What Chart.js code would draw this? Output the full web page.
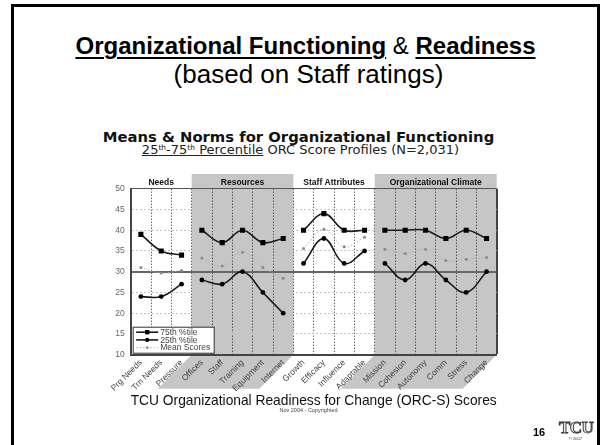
<!DOCTYPE html>
<html>
<head>
<meta charset="utf-8">
<script src="https://cdn.jsdelivr.net/npm/chart.js@4.4.1/dist/chart.umd.min.js"></script>
<style>
  html, body { margin: 0; padding: 0; background: #fff; }
  body { width: 605px; height: 445px; position: relative; overflow: hidden; font-family: 'Liberation Sans', Arial, sans-serif; }
  #frame { position: absolute; left: 11px; top: 4px; width: 589px; height: 500px; border: 3px solid #000; box-sizing: border-box; }
  .txt { position: absolute; left: 0; width: 605px; text-align: center; white-space: nowrap; color: #000; }
  #t1 { top: 34px; font-size: 24px; line-height: 24px; left: 3px; }
  #t1 .b { font-weight: bold; text-decoration: underline; text-decoration-thickness: 2px; text-underline-offset: 3px; }
  #t2 { top: 60.7px; font-size: 26px; line-height: 26px; left: 6px; }
  #c1 { top: 130.2px; font: bold 14.8px/14.8px 'DejaVu Sans', Verdana, sans-serif; left: -4px; color: #111; }
  #c2 { top: 142.5px; font: 13px/13px 'DejaVu Sans', Verdana, sans-serif; left: -2px; color: #222; }
  #c2 sup { font-size: 7.5px; vertical-align: 4px; line-height: 0; }
  #copy { top: 408px; font-size: 5.5px; line-height: 5.5px; left: 6px; color: #444; }
  #page { position: absolute; left: 533px; top: 427px; font-size: 11px; line-height: 11px; font-weight: bold; }
  #logo { position: absolute; left: 559px; top: 419px; font: bold 17px 'Liberation Serif', serif; line-height: 17px; color: #e8e8e8; -webkit-text-stroke: 0.9px #333; letter-spacing: -0.5px; }
  #logoc { position: absolute; left: 569px; top: 437px; font-size: 4px; line-height: 4px; color: #333; }
  canvas { position: absolute; left: 0; top: 0; }
</style>
</head>
<body>
<div id="frame"></div>
<div class="txt" id="t1"><span class="b">Organizational Functioning</span> &amp; <span class="b">Readiness</span></div>
<div class="txt" id="t2">(based on Staff ratings)</div>
<div class="txt" id="c1">Means &amp; Norms for Organizational Functioning</div>
<div class="txt" id="c2"><u>25<sup>th</sup>-75<sup>th</sup> Percentile</u> ORC Score Profiles (N=2,031)</div>
<canvas id="chart" width="605" height="445"></canvas>
<div class="txt" id="copy">Nov 2004 - Copyrighted</div>
<div id="page">16</div>
<div id="logo">TCU</div>
<div id="logoc">© 2007</div>
<script>
// Catégories (axe X)
const labels = ['Prg Needs', 'Trn Needs', 'Pressure', 'Offices', 'Staff', 'Training', 'Equipment', 'Internet',
  'Growth', 'Efficacy', 'Influence', 'Adaptable', 'Mission', 'Cohesion', 'Autonomy', 'Comm', 'Stress', 'Change'];

// Groupes de catégories
const groupNames = ['Needs', 'Resources', 'Staff Attributes', 'Organizational Climate'];
const groupSizes = [3, 5, 4, 6];

// Séries
const p75 = [39, 35, 34, 40, 37, 40, 37, 38, 40, 44, 40, 40, 40, 40, 40, 38, 40, 38];
const p25 = [24, 24, 27, 28, 27, 30, 25, 20, 32, 38, 32, 35, 32, 28, 32, 28, 25, 30];
const means = [31, 29.7, 30.3, 33.3, 31.4, 34.7, 31, 28.4, 35.6, 40.2, 36, 38.3, 35.4, 34.4, 35.4, 32.7, 33, 33.4];
const seriesNames = ['75th %tile', '25th %tile', 'Mean Scores'];

// Axe Y
const yMin = 10;
const yMax = 50;
const yStep = 5;

const xTitle = 'TCU Organizational Readiness for Change (ORC-S) Scores';

const FONT = "'Liberation Sans', Arial, sans-serif";
const BAND = '#c6c6c6';
const shaded = [false, true, false, true];

// index du groupe pour chaque catégorie
const groupOf = [];
groupSizes.forEach((n, g) => { for (let k = 0; k < n; k++) groupOf.push(g); });

const styles = [
  { borderColor: '#1a1a1a', backgroundColor: '#000', borderWidth: 1.6, pointStyle: 'rect', pointRadius: 3.6, borderDash: [] },
  { borderColor: '#1a1a1a', backgroundColor: '#000', borderWidth: 1.6, pointStyle: 'circle', pointRadius: 2.4, borderDash: [] },
  { borderColor: '#b0b0b0', backgroundColor: '#8a8a8a', borderWidth: 1, pointStyle: 'circle', pointRadius: 1.5, borderDash: [1.5, 2] }
];

// une courbe par groupe, pour couper la ligne entre les groupes
function splitByGroup(values, style) {
  return groupNames.map((name, g) => ({
    data: values.map((v, i) => groupOf[i] === g ? v : null),
    borderColor: style.borderColor,
    backgroundColor: style.backgroundColor,
    pointBackgroundColor: style.backgroundColor,
    pointBorderColor: style.backgroundColor,
    pointBorderWidth: 0,
    borderWidth: style.borderWidth,
    borderDash: style.borderDash,
    pointStyle: style.pointStyle,
    pointRadius: style.pointRadius,
    tension: 0.4,
    fill: false
  }));
}

const datasets = [
  ...splitByGroup(means, styles[2]),
  ...splitByGroup(p25, styles[1]),
  ...splitByGroup(p75, styles[0])
];

// Bandes grises + titres des groupes
const bandPlugin = {
  id: 'bands',
  beforeDraw(chart) {
    const { ctx, chartArea: a, scales: { x } } = chart;
    const step = x.getPixelForValue(1) - x.getPixelForValue(0);
    const slant = 34;
    let start = 0;
    ctx.save();
    groupNames.forEach((name, g) => {
      const n = groupSizes[g];
      const l = x.getPixelForValue(start) - step / 2;
      const r = x.getPixelForValue(start + n - 1) + step / 2;
      if (shaded[g]) {
        ctx.fillStyle = BAND;
        ctx.fillRect(l, a.top - 14.7, r - l, a.bottom - a.top + 14.7);
        ctx.beginPath();
        ctx.moveTo(l, a.bottom);
        ctx.lineTo(r, a.bottom);
        ctx.lineTo(r - slant, a.bottom + slant);
        ctx.lineTo(l - slant, a.bottom + slant);
        ctx.closePath();
        ctx.fill();
      }
      ctx.fillStyle = '#111';
      ctx.font = 'bold 8.5px ' + FONT;
      ctx.textAlign = 'center';
      ctx.textBaseline = 'middle';
      ctx.fillText(name, (l + r) / 2, a.top - 6.5);
      start += n;
    });
    ctx.restore();
  }
};

// Légende dans le coin bas gauche
const boxLegend = {
  id: 'boxLegend',
  afterDraw(chart) {
    const { ctx, chartArea: a } = chart;
    const x0 = a.left + 2.5, y0 = a.bottom - 27.5, w = 81, h = 26;
    ctx.save();
    ctx.fillStyle = '#fff';
    ctx.fillRect(x0, y0, w, h);
    ctx.strokeStyle = '#333';
    ctx.lineWidth = 1;
    ctx.strokeRect(x0, y0, w, h);
    seriesNames.forEach((name, k) => {
      const st = styles[k];
      const y = y0 + 5 + k * 7.7;
      ctx.strokeStyle = st.borderColor;
      ctx.lineWidth = st.borderWidth;
      ctx.setLineDash(st.borderDash);
      ctx.beginPath();
      ctx.moveTo(x0 + 3, y);
      ctx.lineTo(x0 + 25, y);
      ctx.stroke();
      ctx.setLineDash([]);
      ctx.fillStyle = st.backgroundColor;
      ctx.strokeStyle = st.backgroundColor;
      Chart.helpers.drawPoint(ctx, { pointStyle: st.pointStyle, radius: st.pointRadius * 0.85, rotation: 0, borderWidth: 0 }, x0 + 14, y);
      ctx.fillStyle = '#444';
      ctx.font = '8.5px ' + FONT;
      ctx.textAlign = 'left';
      ctx.textBaseline = 'middle';
      ctx.fillText(name, x0 + 27, y + 0.5);
    });
    ctx.restore();
  }
};

const chart = new Chart(document.getElementById('chart').getContext('2d'), {
  type: 'line',
  data: { labels: labels, datasets: datasets },
  options: {
    responsive: false,
    animation: false,
    layout: { padding: { left: 0, right: 108.3, top: 188.7, bottom: 0 } },
    plugins: { legend: { display: false }, tooltip: { enabled: false } },
    scales: {
      x: {
        offset: true,
        grid: {
          offset: true,
          drawTicks: false,
          color: ctx => ctx.tick ? '#222' : '#444',
          lineWidth: ctx => ctx.tick ? 1 : 2
        },
        border: { color: '#444', width: 2, dash: ctx => ctx.tick ? [1, 2] : [] },
        ticks: {
          autoSkip: false,
          minRotation: 45,
          maxRotation: 45,
          padding: 3,
          color: '#444',
          font: { family: FONT, size: 8.5 }
        },
        title: {
          display: true,
          text: xTitle,
          color: '#111',
          font: { family: FONT, size: 14.5 },
          padding: { top: 0, bottom: 35 }
        },
        afterFit: s => { s.height = 90.3; }
      },
      y: {
        min: yMin,
        max: yMax,
        grid: {
          drawTicks: false,
          color: ctx => {
            const v = ctx.tick ? ctx.tick.value : null;
            if (v === 30) return '#666';
            if (v === yMax) return '#555';
            if (v === yMin) return '#444';
            return '#c4c4c4';
          },
          lineWidth: ctx => {
            const v = ctx.tick ? ctx.tick.value : null;
            return (v === 30 || v === yMin) ? 2 : 1;
          }
        },
        border: {
          color: '#444',
          width: 2,
          dash: ctx => {
            const v = ctx.tick ? ctx.tick.value : null;
            return (v === null || v === 30 || v === yMax || v === yMin) ? [] : [2, 2];
          }
        },
        ticks: { stepSize: yStep, padding: 6, color: '#666', font: { family: FONT, size: 8.5 } },
        afterFit: s => { s.width = 130.7; }
      }
    }
  },
  plugins: [bandPlugin, boxLegend]
});
</script>
</body>
</html>
